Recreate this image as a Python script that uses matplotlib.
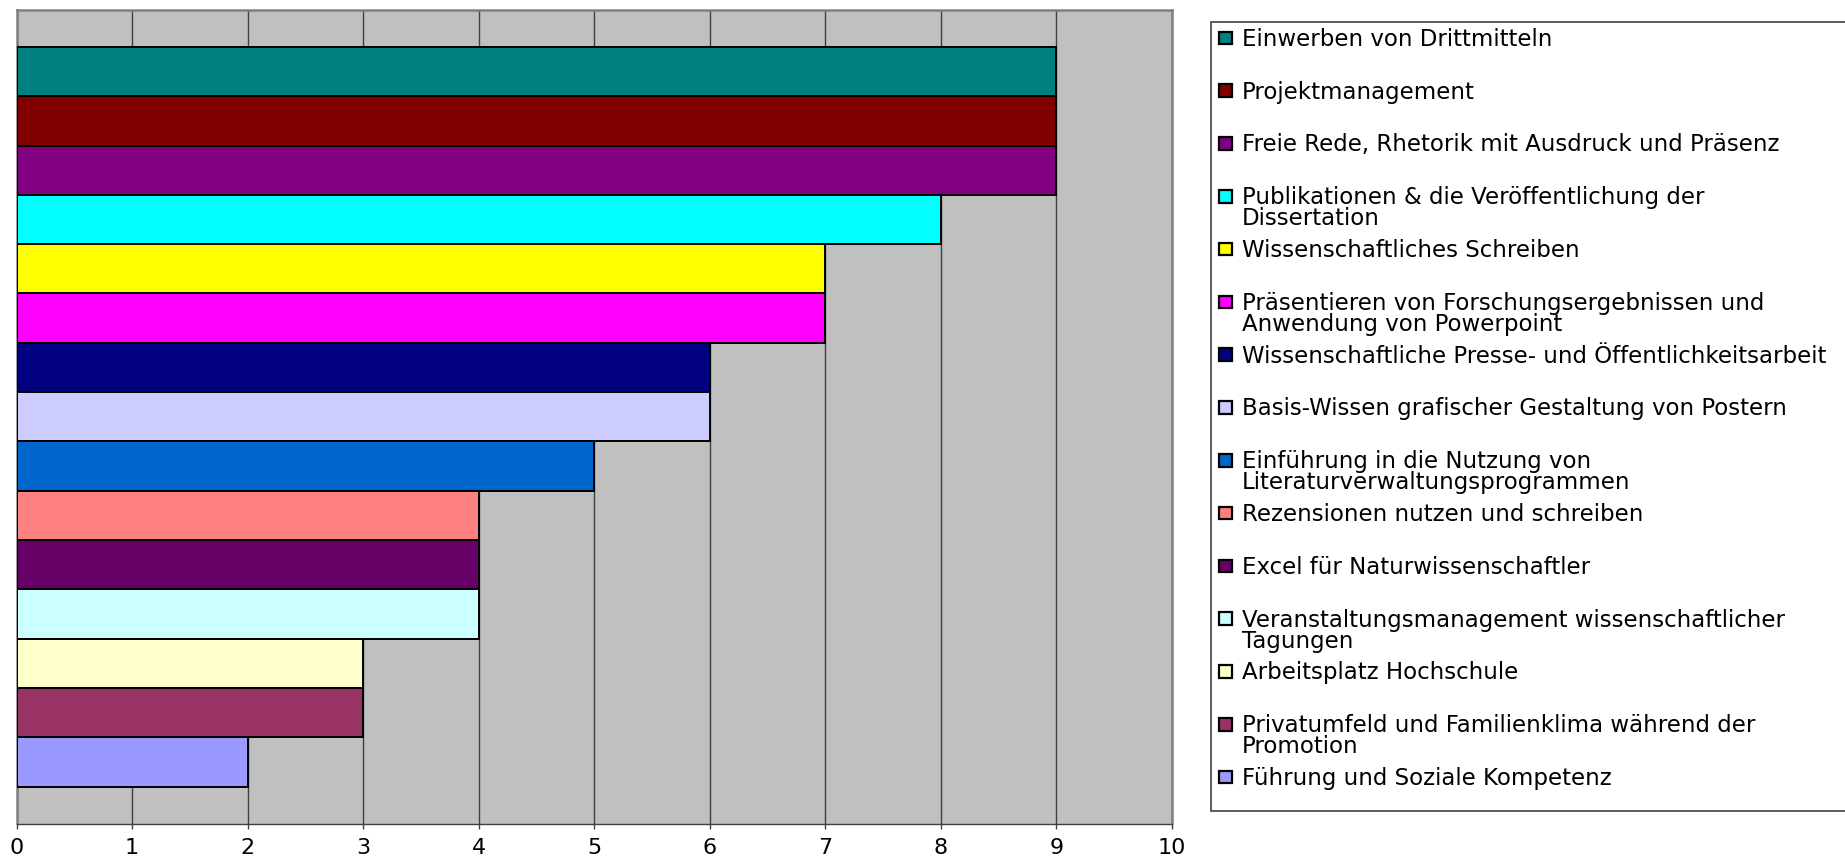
import numpy as np
import matplotlib.pyplot as plt
from matplotlib.patches import Rectangle

plt.rcParams['font.family'] = ['DejaVu Sans']

# Daten
themen = [
    'Einwerben von Drittmitteln',
    'Projektmanagement',
    'Freie Rede, Rhetorik mit Ausdruck und Präsenz',
    'Publikationen & die Veröffentlichung der\nDissertation',
    'Wissenschaftliches Schreiben',
    'Präsentieren von Forschungsergebnissen und\nAnwendung von Powerpoint',
    'Wissenschaftliche Presse- und Öffentlichkeitsarbeit',
    'Basis-Wissen grafischer Gestaltung von Postern',
    'Einführung in die Nutzung von\nLiteraturverwaltungsprogrammen',
    'Rezensionen nutzen und schreiben',
    'Excel für Naturwissenschaftler',
    'Veranstaltungsmanagement wissenschaftlicher\nTagungen',
    'Arbeitsplatz Hochschule',
    'Privatumfeld und Familienklima während der\nPromotion',
    'Führung und Soziale Kompetenz',
]
werte = [9, 9, 9, 8, 7, 7, 6, 6, 5, 4, 4, 4, 3, 3, 2]
farben = ['#008080', '#800000', '#800080', '#00FFFF', '#FFFF00', '#FF00FF',
          '#000080', '#CCCCFF', '#0066CC', '#FF8080', '#660066', '#CCFFFF',
          '#FFFFCC', '#993366', '#9999FF']
xticks = list(range(0, 11))

W, H = 1845, 862
fig = plt.figure(figsize=(W / 100, H / 100), dpi=100)
ax = fig.add_axes([16.5 / W, 1 - 824.5 / H, (1172 - 16.5) / W, (824.5 - 11) / H])
ax.set_facecolor('#C0C0C0')

pos = np.arange(len(werte))
ax.barh(pos, werte, height=1.0, color=farben, edgecolor='black', linewidth=1.4, zorder=3)

ax.set_xlim(0, 10)
ax.set_ylim(len(werte) - 0.5 + 0.75, -0.5 - 0.75)
ax.set_xticks(xticks)
ax.set_xticklabels([str(t) for t in xticks], fontsize=16)
ax.set_yticks([])
ax.tick_params(axis='x', direction='out', length=3.6, width=1, color='#404040', pad=6)
ax.grid(True, axis='x', color='#404040', linewidth=1, zorder=1)
ax.set_axisbelow(True)
for s in ['top', 'left', 'right']:
    ax.spines[s].set_color('#808080')
    ax.spines[s].set_linewidth(1.8)
ax.spines['bottom'].set_color('#404040')
ax.spines['bottom'].set_linewidth(1)

# Legende (manuell, wie im Original: Kästchen an der ersten Zeile)
fig.patches.append(Rectangle((1211 / W, 1 - 812 / H), (1900 - 1211) / W, (812 - 23) / H,
                             transform=fig.transFigure, facecolor='white',
                             edgecolor='#404040', linewidth=1.2, zorder=0))
y0, schritt, zeile = 38.9, 52.8, 21.0
for i, (name, farbe) in enumerate(zip(themen, farben)):
    y = y0 + i * schritt
    fig.patches.append(Rectangle((1218.5 / W, 1 - (y + 6.3) / H), 13 / W, 12.6 / H,
                                 transform=fig.transFigure, facecolor=farbe,
                                 edgecolor='black', linewidth=1.6, zorder=2))
    for k, teil in enumerate(name.split('\n')):
        fig.text(1242 / W, 1 - (y + 7 + k * zeile) / H, teil, fontsize=16.5,
                 va='baseline', ha='left')

fig.savefig('out.png', dpi=100)
